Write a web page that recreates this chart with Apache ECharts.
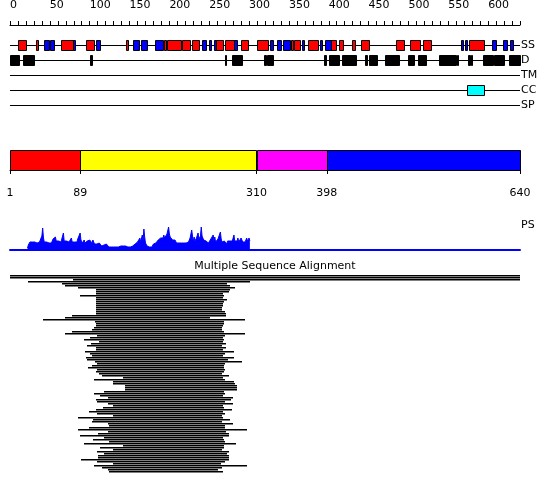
<!DOCTYPE html>
<html>
<head>
<meta charset="utf-8">
<script src="https://cdn.jsdelivr.net/npm/echarts@6/dist/echarts.min.js"></script>
<style>
  html, body { margin: 0; padding: 0; background: #fff; }
  #main { width: 550px; height: 495px; }
</style>
</head>
<body>
<div id="main"></div>
<script>
// sequence / tracks
const seqLen = 640
const trackNames = ['SS', 'D', 'TM', 'CC', 'SP']

// secondary structure (residue ranges)
const ssHelix = [[10,20],[33,36],[64,79],[95,105],[146,149],[193,196],[197,214],[216,226],[229,238],[259,268],
  [270,281],[290,299],[310,324],[352,355],[356,364],[374,387],[402,409],[413,418],[429,433],[441,451],
  [485,495],[502,515],[518,528],[576,595]]
const ssStrand = [[43,49],[50,55],[79,82],[108,113],[154,162],[164,172],[182,192],[241,246],[250,253],[256,259],
  [281,285],[326,330],[335,340],[343,352],[367,369],[389,392],[395,402],[566,569],[571,574],[605,610],
  [619,624],[628,632]]
// disorder
const disorder = [[0,11],[16,30],[100,102],[270,271],[279,291],[319,322],[323,330],[394,396],[400,413],[417,434],
  [446,448],[451,461],[470,487],[499,507],[512,522],[538,559],[561,562],[575,577],[579,580],[594,606],
  [607,620],[626,640]]
// coiled coil
const coiled = [[573,594]]

// domain bar
const domStart = [1, 89, 310, 398]
const domEnd = [89, 310, 398, 640]
const domColors = ['#ff0000', '#ffff00', '#ff00ff', '#0000ff']
const domTicks = [1, 89, 310, 398, 640]

// PS profile, one value per residue starting at psStart
const psStart = 22
const psVals = [
  2,5,7,8,7,9,8,10,9,8,10,9,7,9,6,8,7,10,14,22,12,
  8,7,6,8,7,6,7,8,6,7,9,11,13,12,13,9,8,7,9,8,7,8,10,7,17,9,
  8,7,9,8,7,8,9,7,12,8,9,7,8,10,9,8,11,10,12,17,10,
  8,7,9,10,7,8,6,9,8,7,10,9,8,7,10,8,6,7,8,6,
  6,5,7,5,6,4,5,6,5,4,5,6,4,
  4,3,5,4,3,4,5,3,4,4,3,5,4,3,4,3,4,5,3,4,3,3,4,3,4,3,3,2,
  3,2,3,4,3,5,6,7,6,8,7,9,12,8,10,15,9,21,13,7,5,4,
  3,2,3,2,4,3,5,6,7,8,7,9,8,10,9,11,
  12,11,13,12,15,12,14,13,16,18,23,16,13,11,12,10,9,11,10,
  8,7,9,6,7,8,6,7,5,7,7,6,8,7,6,
  9,8,10,12,11,20,14,8,13,9,10,12,11,17,11,12,14,23,14,12,10,12,11,9,
  8,10,7,9,8,11,9,12,15,9,13,8,10,9,11,12,10,18,11,
  8,7,10,9,7,8,6,9,8,7,9,8,10,9,12,15,9,
  8,10,9,12,8,7,9,12,10,8,7,9,8,10,12,9,11,12,9
]

// multiple sequence alignment: start / end residue of each aligned sequence
const msaStart = [0,0,79,23,65,69,85,108,108,108,88,108,108,108,108,108,108,108,108,108,
  78,69,41,107,108,108,105,103,78,69,109,100,93,112,102,97,108,108,94,100,
  103,95,97,107,109,103,98,109,
  108,112,115,142,105,129,129,144,144,144,118,105,113,123,108,109,123,129,117,108,
  99,109,129,85,104,103,123,124,99,85,123,110,88,118,104,124,93,142,113,129,
  109,118,110,110,89,109,129,105,115,123,124]
const msaEnd = [640,640,640,301,272,276,282,276,275,267,269,267,272,269,267,267,266,266,270,271,
  271,251,295,269,269,267,266,266,269,295,270,267,269,267,271,267,271,267,281,269,
  267,281,274,292,269,269,269,269,
  269,266,274,267,270,281,282,284,284,284,269,269,267,280,277,270,280,267,269,279,
  267,269,266,267,276,266,280,270,270,297,271,274,275,267,269,269,284,269,269,266,
  275,272,275,275,275,269,265,297,266,261,267]

const chart = echarts.init(document.getElementById('main'))
const font = 'DejaVu Sans'

const boxRender = (h) => (params, api) => {
  const row = api.value(2)
  const p0 = api.coord([api.value(0), row])
  const p1 = api.coord([api.value(1), row])
  return {
    type: 'rect',
    shape: { x: Math.round(p0[0]) + 0.5, y: Math.round(p0[1] - h / 2) + 0.5, width: Math.max(Math.round(p1[0] - p0[0]), 1), height: h },
    style: { fill: api.visual('color'), stroke: '#000', lineWidth: 1 }
  }
}

const lineRender = (params, api) => {
  const row = api.value(2)
  const p0 = api.coord([api.value(0), row])
  const p1 = api.coord([api.value(1), row])
  const y = Math.round(p0[1]) + 0.5
  return {
    type: 'line',
    shape: { x1: p0[0], y1: y, x2: p1[0], y2: y },
    style: { stroke: '#000', lineWidth: 1 }
  }
}

const toRows = (arr, row) => arr.map(d => [d[0], d[1], row])

const option = {
  animation: false,
  textStyle: { fontFamily: font },
  title: {
    text: 'Multiple Sequence Alignment',
    left: 'center',
    top: 261,
    padding: 0,
    textStyle: { fontSize: 11, fontWeight: 'normal', color: '#000', fontFamily: font }
  },
  graphic: [{
    type: 'text', left: 521, top: 220,
    style: { text: 'PS', fontSize: 11, fill: '#000', fontFamily: font }
  }],
  grid: [
    { left: 10, width: 510, top: 15, height: 10 },
    { left: 10, width: 510, top: 37.5, height: 75 },
    { left: 10, width: 510, top: 150, height: 20 },
    { left: 10, width: 510, top: 220, height: 30 },
    { left: 10, width: 510, top: 274, height: msaStart.length * 2 }
  ],
  xAxis: [
    {
      gridIndex: 0, type: 'value', min: 0, max: seqLen, interval: 50, position: 'top',
      axisLine: { lineStyle: { color: '#000', width: 1 } },
      axisTick: { length: 4, lineStyle: { color: '#000' } },
      minorTick: { show: true, splitNumber: 5, length: 4, lineStyle: { color: '#000' } },
      axisLabel: { showMaxLabel: false, fontSize: 11, color: '#000', margin: 4, align: 'left', fontFamily: font },
      splitLine: { show: false }
    },
    { gridIndex: 1, type: 'value', min: 0, max: seqLen, show: false },
    {
      gridIndex: 2, type: 'value', min: 1, max: seqLen, position: 'bottom', offset: 10,
      axisLine: { lineStyle: { color: '#000', width: 1 } },
      axisTick: { customValues: domTicks, length: 4, lineStyle: { color: '#000' } },
      axisLabel: { customValues: domTicks, fontSize: 11, color: '#000', margin: 8, fontFamily: font },
      splitLine: { show: false }
    },
    {
      gridIndex: 3, type: 'value', min: 0, max: seqLen,
      axisLine: { lineStyle: { color: '#0000ff', width: 2 } },
      axisTick: { show: false }, axisLabel: { show: false }, splitLine: { show: false }
    },
    { gridIndex: 4, type: 'value', min: 0, max: seqLen, show: false }
  ],
  yAxis: [
    { gridIndex: 0, type: 'value', show: false },
    {
      gridIndex: 1, type: 'category', data: trackNames, inverse: true, position: 'right',
      axisLine: { show: false }, axisTick: { show: false },
      axisLabel: { fontSize: 11, color: '#000', margin: 1, fontFamily: font }
    },
    { gridIndex: 2, type: 'value', min: 0, max: 1, show: false },
    { gridIndex: 3, type: 'value', min: 0, max: 30, show: false },
    { gridIndex: 4, type: 'value', min: 0, max: msaStart.length, inverse: true, show: false }
  ],
  series: [
    {
      type: 'custom', xAxisIndex: 1, yAxisIndex: 1, renderItem: lineRender,
      encode: { x: [0, 1], y: 2 },
      data: trackNames.map((t, i) => [0, seqLen, i]), z: 1
    },
    {
      type: 'custom', xAxisIndex: 1, yAxisIndex: 1, renderItem: boxRender(10),
      encode: { x: [0, 1], y: 2 }, itemStyle: { color: '#ff0000' },
      data: toRows(ssHelix, 0), z: 2
    },
    {
      type: 'custom', xAxisIndex: 1, yAxisIndex: 1, renderItem: boxRender(10),
      encode: { x: [0, 1], y: 2 }, itemStyle: { color: '#0000ff' },
      data: toRows(ssStrand, 0), z: 2
    },
    {
      type: 'custom', xAxisIndex: 1, yAxisIndex: 1, renderItem: boxRender(10),
      encode: { x: [0, 1], y: 2 }, itemStyle: { color: '#000000' },
      data: toRows(disorder, 1), z: 2
    },
    {
      type: 'custom', xAxisIndex: 1, yAxisIndex: 1, renderItem: boxRender(10),
      encode: { x: [0, 1], y: 2 }, itemStyle: { color: '#00ffff' },
      data: toRows(coiled, 3), z: 2
    },
    {
      type: 'custom', xAxisIndex: 2, yAxisIndex: 2,
      encode: { x: [0, 1] },
      renderItem: (params, api) => {
        const p0 = api.coord([api.value(0), 1])
        const p1 = api.coord([api.value(1), 0])
        return {
          type: 'rect',
          shape: { x: Math.round(p0[0]) + 0.5, y: Math.round(p0[1]) + 0.5, width: Math.round(p1[0] - p0[0]), height: Math.round(p1[1] - p0[1]) },
          style: { fill: domColors[params.dataIndex], stroke: '#000', lineWidth: 1 }
        }
      },
      data: domStart.map((s, i) => [s, domEnd[i]])
    },
    {
      type: 'line', xAxisIndex: 3, yAxisIndex: 3, symbol: 'none',
      lineStyle: { color: '#0000ff', width: 1 },
      areaStyle: { color: '#0000ff', opacity: 1 },
      data: psVals.map((v, i) => [psStart + i, v])
    },
    {
      type: 'custom', xAxisIndex: 4, yAxisIndex: 4,
      encode: { x: [0, 1], y: 2 },
      renderItem: (params, api) => {
        const p0 = api.coord([api.value(0), api.value(2) + 0.5])
        const p1 = api.coord([api.value(1), api.value(2) + 0.5])
        return {
          type: 'rect',
          shape: { x: Math.round(p0[0]), y: Math.floor(p0[1]), width: Math.round(p1[0] - p0[0]), height: 1.4 },
          style: { fill: '#000' }
        }
      },
      data: msaStart.map((s, i) => [s, msaEnd[i], i])
    }
  ]
}

chart.setOption(option)
window.addEventListener('resize', () => chart.resize())
</script>
</body>
</html>
